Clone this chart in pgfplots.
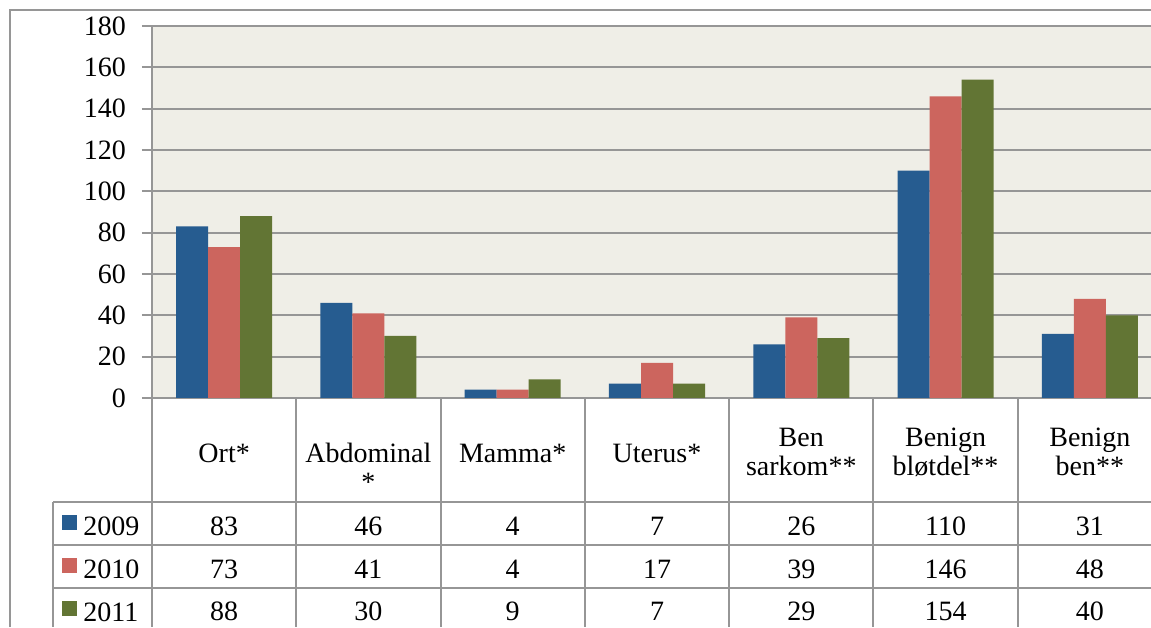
\documentclass[border=0pt]{standalone}
\usepackage{pgfplots}
\pgfplotsset{compat=1.18}
\usepackage{pgfplotstable}
\usepackage{fontspec}
\setmainfont{Liberation Serif}
\definecolor{c09}{RGB}{38,92,144}
\definecolor{c10}{RGB}{204,101,94}
\definecolor{c11}{RGB}{98,117,52}
\definecolor{bg}{RGB}{239,238,231}
\definecolor{gr}{RGB}{150,150,150}
\pgfplotstableread{
x a b c
0 83 73 88
1 46 41 30
2 4 4 9
3 7 17 7
4 26 39 29
5 110 146 154
6 31 48 40
}\data
\begin{document}
\begin{tikzpicture}[font=\fontsize{14}{16.5}\selectfont]
\useasboundingbox (0,0) rectangle (575.5pt,313.5pt);
\draw[gr, line width=0.75pt] (5pt,0) -- (5pt,308.5pt) -- (580pt,308.5pt);
\begin{axis}[
  at={(76pt,114.5pt)}, anchor=south west,
  scale only axis, width=505pt, height=186pt,
  xmin=-0.5, xmax=6.5, ymin=0, ymax=180,
  axis background/.style={fill=bg},
  ytick={0,20,...,180}, ymajorgrids, grid style={gr, line width=1pt},
  xtick=\empty,
  axis line style={gr, line width=1pt},
  tick style={gr, line width=1pt}, major tick length=5pt, ytick pos=left, tick align=outside,
  yticklabel style={anchor=east, xshift=-4.5pt, font=\fontsize{14}{16.5}\selectfont},
  clip=false,
  /pgf/number format/assume math mode=true,
  nodes near coords style={anchor=base, font=\fontsize{14}{16.5}\selectfont},
]
\addplot[ybar, bar width=16pt, bar shift=-16pt, fill=c09, draw=none] table[x=x,y=a]{\data};
\addplot[ybar, bar width=16pt, bar shift=0pt, fill=c10, draw=none] table[x=x,y=b]{\data};
\addplot[ybar, bar width=16pt, bar shift=16pt, fill=c11, draw=none] table[x=x,y=c]{\data};
\addplot[draw=none, mark=none, nodes near coords, point meta=explicit] table[x=x, y expr=-66.3, meta=a]{\data};
\addplot[draw=none, mark=none, nodes near coords, point meta=explicit] table[x=x, y expr=-87.1, meta=b]{\data};
\addplot[draw=none, mark=none, nodes near coords, point meta=explicit] table[x=x, y expr=-107.9, meta=c]{\data};
\node[anchor=base] at (axis cs:0,-31) {Ort*};
\node[anchor=base] at (axis cs:1,-31) {Abdominal};
\node[anchor=base] at (axis cs:1,-45) {*};
\node[anchor=base] at (axis cs:2,-31) {Mamma*};
\node[anchor=base] at (axis cs:3,-31) {Uterus*};
\node[anchor=base] at (axis cs:4,-23.7) {Ben};
\node[anchor=base] at (axis cs:4,-37.7) {sarkom**};
\node[anchor=base] at (axis cs:5,-23.7) {Benign};
\node[anchor=base] at (axis cs:5,-37.7) {bløtdel**};
\node[anchor=base] at (axis cs:6,-23.7) {Benign};
\node[anchor=base] at (axis cs:6,-37.7) {ben**};
\end{axis}
% data table frame
\foreach \k in {0,...,7} {
  \draw[gr, line width=1pt] ({76pt+72.14pt*\k},114.5pt) -- ({76pt+72.14pt*\k},0pt);
}
\foreach \yy in {62.5pt,41pt,19.5pt} {
  \draw[gr, line width=1pt] (26.5pt,\yy) -- (590pt,\yy);
}
\draw[gr, line width=1pt] (26.5pt,62.5pt) -- (26.5pt,0pt);
% legend keys
\fill[c09] (31pt,48.5pt) rectangle (38.5pt,56pt);
\fill[c10] (31pt,27pt) rectangle (38.5pt,34.5pt);
\fill[c11] (31pt,5.5pt) rectangle (38.5pt,13pt);
\node[anchor=base west, inner sep=0pt] at (41.5pt,46pt) {2009};
\node[anchor=base west, inner sep=0pt] at (41.5pt,24.5pt) {2010};
\node[anchor=base west, inner sep=0pt] at (41.5pt,3pt) {2011};
\end{tikzpicture}
\end{document}
